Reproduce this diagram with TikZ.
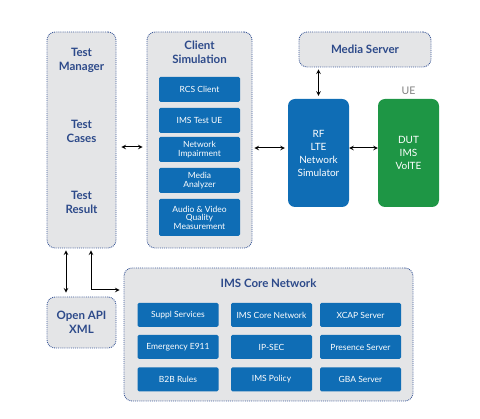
\documentclass[tikz,border=0pt]{standalone}
\usepackage{fontspec}
\setmainfont{Lato}
\usetikzlibrary{arrows, positioning}
\definecolor{panelgray}{HTML}{E4E5E7}
\definecolor{dotblue}{HTML}{3D5A99}
\definecolor{titleblue}{HTML}{2D4A8A}
\definecolor{boxblue}{HTML}{0F6DB5}
\definecolor{dutgreen}{HTML}{1E9645}
\tikzstyle{arrow}  = [line width=1pt,<->,>=stealth]
\tikzstyle{panel}  = [draw=dotblue, densely dotted, line width=0.9pt, fill=panelgray, rounded corners=8pt, inner sep=0pt]
\tikzstyle{title}  = [text=titleblue, font=\bfseries\fontsize{11.5}{14}\selectfont]
\tikzstyle{unit}   = [fill=boxblue, text=white, rounded corners=1.5pt, inner sep=0pt, font=\fontsize{8.5}{8.5}\selectfont]
\tikzstyle{device} = [text=white, rounded corners=7pt, inner sep=0pt, minimum width=61pt, minimum height=108pt, font=\fontsize{10}{13}\selectfont]
\tikzset{every node/.style={align=center}}

\begin{document}
\begin{tikzpicture}[x=1pt, y=-1pt]
  \useasboundingbox (0,0) rectangle (480,419);
  % Panels
  \node[panel, minimum width=69pt, minimum height=216pt] (tm) at (81.5,140) {};
  \node[panel, minimum width=105pt, minimum height=216pt] (cs) at (199.5,140) {};
  \node[panel, minimum width=132pt, minimum height=35pt, title] (ms) at (365,49.5) {Media Server};
  \node[panel, minimum width=69pt, minimum height=51pt, title] (api) at (81.5,322.5) {Open API\\XML};
  \node[panel, minimum width=289pt, minimum height=133pt] (core) at (268.5,334.5) {};
  % Titles
  \node[title] (tmgr) at (81.5,60) {Test\\Manager};
  \node[title] (tcase) at (81.5,131) {Test\\Cases};
  \node[title] (tres) at (81.5,202) {Test\\Result};
  \node[title] (cstitle) at (199.5,52) {Client\\Simulation};
  \node[title] (coretitle) at (268.5,283) {IMS Core Network};
  % Client simulation units
  \foreach \n/\y/\h/\txt in {1/89.5/25/{RCS Client}, 2/120.5/25/{IMS Test UE},
      3/149.5/25/{Network\\Impairment}, 4/180.5/25/{Media\\Analyzer},
      5/217.5/37/{Audio \& Video\\Quality\\Measurement}}
    \node[unit, minimum width=81pt, minimum height=\h pt] (cs\n) at (199.5,\y) {\txt};
  % IMS core units
  \foreach \n/\x/\y/\txt in {1/178/315/{Suppl Services}, 2/271.5/315/{IMS Core Network},
      3/360.5/315/{XCAP Server}, 4/178/347/{Emergency E911}, 5/271.5/347/{IP-SEC},
      6/360.5/347/{Presence Server}, 7/178/379.5/{B2B Rules}, 8/271.5/379.5/{IMS Policy},
      9/360.5/379.5/{GBA Server}}
    \node[unit, minimum width=81pt, minimum height=24pt] (core\n) at (\x,\y) {\txt};
  % RF simulator and DUT
  \node[device, fill=boxblue] (rf) at (318.5,153) {RF\\LTE\\Network\\Simulator};
  \node[device, fill=dutgreen] (dut) at (408.5,153) {DUT\\IMS\\VolTE};
  \node[above=1pt of dut, text=gray, font=\fontsize{10.5}{12}\selectfont] (ue) {UE};
  % Connectors
  \coordinate (rfin) at ([yshift=5pt]rf.west);
  \coordinate (bend) at (91,290);
  \draw[arrow, shorten <=5pt, shorten >=4pt] ([yshift=-7pt]tm.east) -- ([yshift=-7pt]tm.east -| cs.west);
  \draw[arrow, shorten <=2pt, shorten >=3pt] (cs.east |- rfin) -- (rfin);
  \draw[arrow] ([yshift=5pt]rf.east) -- ([yshift=5pt]dut.west);
  \draw[arrow, shorten <=2pt, shorten >=3pt] (rf.north |- ms.south) -- (rf.north);
  \draw[arrow, shorten <=2pt, shorten >=4pt] (tm.south -| 66,0) -- (api.north -| 66,0);
  \draw[arrow, shorten >=4pt, shorten <=2pt] (tm.south -| bend) -- (bend) -- (bend -| core.west);
\end{tikzpicture}
\end{document}
